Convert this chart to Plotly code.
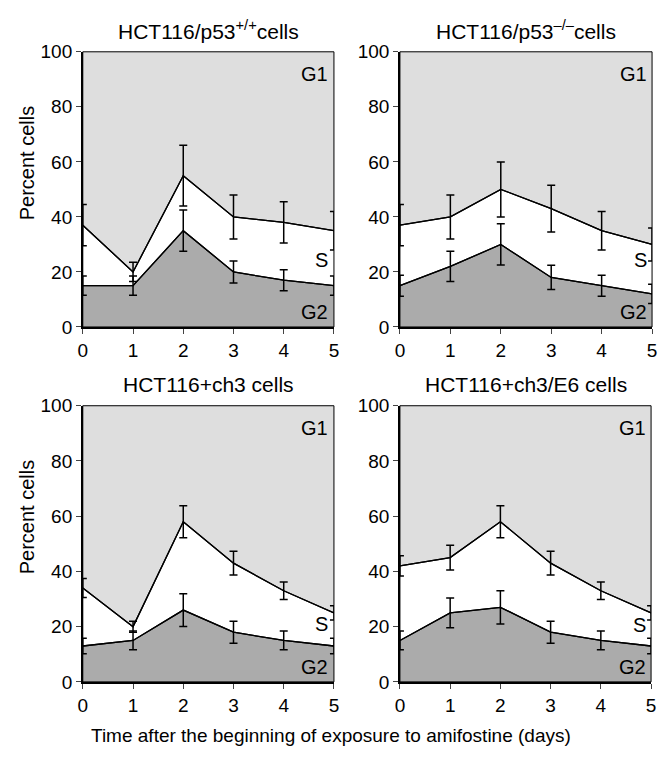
import plotly.graph_objects as go

days = [0, 1, 2, 3, 4, 5]
titles = ["HCT116/p53<sup>+/+</sup>cells", "HCT116/p53<sup>\u2013/\u2013</sup>cells",
          "HCT116+ch3 cells", "HCT116+ch3/E6 cells"]

# G2 fraction (lower boundary) and G2+S (upper boundary), with error bars
g2_p53wt = [15, 15, 35, 20, 17, 15]
g2_p53wt_err = [3.5, 3.5, 7.5, 4, 3.8, 3.5]
gs_p53wt = [37, 20, 55, 40, 38, 35]
gs_p53wt_err = [7.5, 3.5, 11, 8, 7.5, 7]

g2_p53ko = [15, 22, 30, 18, 15, 12]
g2_p53ko_err = [3.8, 5.5, 7.5, 4.4, 3.8, 3.5]
gs_p53ko = [37, 40, 50, 43, 35, 30]
gs_p53ko_err = [7.5, 8, 10, 8.5, 7, 6]

g2_ch3 = [13, 15, 26, 18, 15, 13]
g2_ch3_err = [2.8, 3.4, 5.9, 4, 3.4, 2.8]
gs_ch3 = [34, 20, 58, 43, 33, 25]
gs_ch3_err = [3.4, 2, 5.8, 4.3, 3.2, 2.6]

g2_e6 = [15, 25, 27, 18, 15, 13]
g2_e6_err = [3.4, 5.4, 6, 4, 3.4, 2.8]
gs_e6 = [42, 45, 58, 43, 33, 25]
gs_e6_err = [3.7, 4.5, 5.8, 4.3, 3.2, 2.6]

panels = [
    (g2_p53wt, g2_p53wt_err, gs_p53wt, gs_p53wt_err),
    (g2_p53ko, g2_p53ko_err, gs_p53ko, gs_p53ko_err),
    (g2_ch3, g2_ch3_err, gs_ch3, gs_ch3_err),
    (g2_e6, g2_e6_err, gs_e6, gs_e6_err),
]
s_label_y = [24.5, 24.5, 20.8, 20.5]

W, H = 661, 759
px_x = [(79, 334), (401, 657), (79, 334), (401, 656)]
px_y = [(43, 326), (43, 326), (407, 691), (407, 691)]


def fx(p):
    return p / W


def fy(p):
    return 1 - p / H


FONT = "Liberation Sans, Arial, sans-serif"
fig = go.Figure()
layout = dict(width=W, height=H, margin=dict(l=0, r=0, t=0, b=0),
              paper_bgcolor="white", showlegend=False,
              font=dict(family=FONT, size=19, color="black"))
shapes = []
annotations = []

for i, (g2, g2e, gs, gse) in enumerate(panels):
    n = i + 1
    xa = "x" if n == 1 else f"x{n}"
    ya = "y" if n == 1 else f"y{n}"
    xk = "xaxis" if n == 1 else f"xaxis{n}"
    yk = "yaxis" if n == 1 else f"yaxis{n}"
    x0, x1 = px_x[i]
    y0, y1 = px_y[i]
    shapes.append(dict(type="rect", xref=f"{xa} domain", yref=f"{ya} domain",
                       x0=0, x1=1, y0=0, y1=1, fillcolor="#dedede",
                       line=dict(width=0), layer="below"))
    fig.add_trace(go.Scatter(x=days, y=g2, xaxis=xa, yaxis=ya, mode="lines",
                             line=dict(color="black", width=1.3),
                             fill="tozeroy", fillcolor="#ababab",
                             cliponaxis=False, hoverinfo="skip"))
    fig.add_trace(go.Scatter(x=days, y=gs, xaxis=xa, yaxis=ya, mode="lines",
                             line=dict(color="black", width=1.3),
                             fill="tonexty", fillcolor="white",
                             cliponaxis=False, hoverinfo="skip"))
    fig.add_trace(go.Scatter(x=days, y=g2, xaxis=xa, yaxis=ya, mode="lines",
                             line=dict(color="black", width=1.3),
                             error_y=dict(type="data", array=g2e, color="black",
                                          thickness=1.5, width=4),
                             cliponaxis=False, hoverinfo="skip"))
    fig.add_trace(go.Scatter(x=days, y=gs, xaxis=xa, yaxis=ya, mode="lines",
                             line=dict(color="black", width=1.3),
                             error_y=dict(type="data", array=gse, color="black",
                                          thickness=1.5, width=4),
                             cliponaxis=False, hoverinfo="skip"))
    layout[xk] = dict(domain=[fx(x0), fx(x1)], range=[0, 5], anchor=ya,
                      tickvals=days, ticks="outside", ticklen=5, tickwidth=1.3,
                      showgrid=False, zeroline=False, showline=True,
                      linecolor="black", linewidth=2,
                      tickfont=dict(size=19))
    layout[yk] = dict(domain=[fy(y1), fy(y0)], range=[0, 100], anchor=xa,
                      tickvals=[0, 20, 40, 60, 80, 100], ticks="outside",
                      ticklen=5, tickwidth=1.3, showgrid=False, zeroline=False,
                      showline=True, linecolor="black", linewidth=1.5,
                      tickfont=dict(size=19))
    shapes.append(dict(type="rect", xref=f"{xa} domain", yref=f"{ya} domain",
                       x0=0, x1=1, y0=0, y1=1, line=dict(color="black", width=1),
                       layer="above"))
    annotations.append(dict(text=titles[i], xref="paper", yref="paper",
                            x=fx((x0 + x1) / 2), y=fy(y0 - 22),
                            xanchor="center", yanchor="middle", showarrow=False,
                            font=dict(size=21)))
    for lab, ly in (("G1", 92), ("S", s_label_y[i]), ("G2", 5.5)):
        annotations.append(dict(text=lab, xref=xa, yref=ya, x=4.93, y=ly,
                                xanchor="right", yanchor="middle",
                                showarrow=False, font=dict(size=20)))

for yc in (157, 521):
    annotations.append(dict(text="Percent cells", xref="paper", yref="paper",
                            x=fx(22), y=fy(yc), textangle=-90,
                            xanchor="center", yanchor="middle", showarrow=False,
                            font=dict(size=20)))
annotations.append(dict(text="Time after the beginning of exposure to amifostine (days)",
                        xref="paper", yref="paper", x=fx(331), y=fy(746),
                        xanchor="center", yanchor="middle", showarrow=False,
                        font=dict(size=19)))

layout["shapes"] = shapes
layout["annotations"] = annotations
fig.update_layout(**layout)
fig.write_html("out.html", config={"displayModeBar": False},
               post_script="document.body.style.margin='0px';"
                           "document.body.style.overflow='hidden';")
